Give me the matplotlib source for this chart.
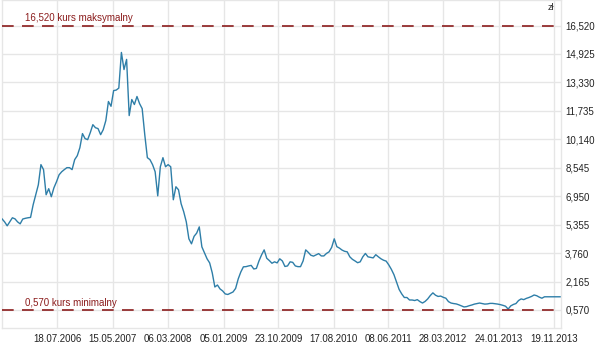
import matplotlib
matplotlib.use("Agg")
import matplotlib.pyplot as plt
import numpy as np
import pandas as pd

plt.rcParams['font.family'] = ['Liberation Sans', 'DejaVu Sans']

# ---- data ----
start_date = "2005-09-24"
step = "14D"
prices = [
    5.68, 5.51, 5.29, 5.51, 5.74, 5.68, 5.51, 5.40, 5.67, 5.71,
    5.74, 5.76, 6.47, 7.03, 7.59, 8.72, 8.44, 7.03, 7.37, 6.92,
    7.42, 7.76, 8.15, 8.32, 8.44, 8.55, 8.55, 8.44, 9.00, 9.22,
    9.67, 10.46, 10.18, 10.12, 10.51, 10.96, 10.79, 10.74, 10.40, 10.68,
    11.19, 12.26, 11.99, 12.87, 12.90, 13.01, 15.01, 14.05, 14.62, 11.47,
    12.37, 12.09, 12.54, 12.14, 11.86, 10.40, 9.11, 9.00, 8.72, 8.32,
    6.97, 8.60, 9.11, 8.60, 8.72, 8.60, 6.75, 7.48, 7.31, 6.53,
    6.08, 5.51, 4.56, 4.28, 4.70, 4.88, 5.23, 4.11, 3.77, 3.44,
    3.21, 2.65, 1.86, 1.97, 1.75, 1.64, 1.47, 1.44, 1.51, 1.58,
    1.78, 2.31, 2.70, 2.99, 3.00, 3.04, 3.07, 2.87, 2.90, 3.32,
    3.66, 3.94, 3.47, 3.34, 3.19, 3.27, 3.21, 3.44, 3.32, 3.01,
    3.04, 3.27, 3.24, 3.04, 3.00, 3.00, 3.32, 3.94, 3.80, 3.64,
    3.59, 3.66, 3.73, 3.60, 3.60, 3.74, 3.83, 4.08, 4.56, 4.12,
    4.04, 3.93, 3.86, 3.83, 3.55, 3.41, 3.32, 3.22, 3.27, 3.55,
    3.74, 3.55, 3.52, 3.49, 3.67, 3.55, 3.44, 3.36, 3.31, 3.10,
    2.85, 2.55, 2.14, 1.72, 1.47, 1.27, 1.27, 1.13, 1.13, 1.10,
    1.15, 1.04, 0.96, 1.05, 1.19, 1.38, 1.53, 1.40, 1.33, 1.35,
    1.28, 1.23, 1.04, 0.96, 0.93, 0.91, 0.86, 0.80, 0.74, 0.76,
    0.81, 0.85, 0.90, 0.93, 0.96, 0.93, 0.90, 0.91, 0.94, 0.94,
    0.92, 0.90, 0.87, 0.83, 0.78, 0.62, 0.80, 0.88, 0.93, 1.10,
    1.19, 1.15, 1.22, 1.27, 1.33, 1.41, 1.37, 1.29, 1.23, 1.31,
    1.31, 1.31, 1.31, 1.31, 1.31, 1.31,
]
max_price = 16.520
min_price = 0.570
y_ticks = [0.570, 2.165, 3.760, 5.355, 6.950, 8.545, 10.140, 11.735, 13.330, 14.925, 16.520]
x_tick_labels = ["18.07.2006", "15.05.2007", "06.03.2008", "05.01.2009", "23.10.2009",
                 "17.08.2010", "08.06.2011", "28.03.2012", "24.01.2013", "19.11.2013"]
max_label = "16,520 kurs maksymalny"
min_label = "0,570 kurs minimalny"
unit_label = "zł"

dates = pd.date_range(start_date, periods=len(prices), freq=step)
tick_dates = pd.to_datetime(x_tick_labels, format="%d.%m.%Y")

# ---- figure ----
W, H = 608, 353
fig = plt.figure(figsize=(W / 100, H / 100), dpi=100)
ax = fig.add_axes([2 / W, 25 / H, 559 / W, 328 / H])

line_color = "#2e7ea8"
dash_color = "#8b1c1c"
grid_color = "#e6e6e6"

ax.plot(dates, prices, color=line_color, lw=1.0, zorder=3)

ax.axhline(max_price, color=dash_color, lw=1.2, ls=(0, (7, 5)), zorder=4)
ax.axhline(min_price, color=dash_color, lw=1.2, ls=(0, (7, 5)), zorder=4)

ax.set_ylim(-0.44, 17.95)
ax.set_xlim(dates[0], dates[-1] + pd.Timedelta(days=5))

ax.set_yticks(y_ticks)
ax.set_yticklabels([f"{v:.3f}".replace(".", ",") for v in y_ticks])
ax.yaxis.tick_right()
ax.set_xticks(tick_dates)
ax.set_xticklabels(x_tick_labels)

ax.tick_params(axis="both", length=0, labelsize=7, colors="#222222")
ax.tick_params(axis="y", pad=3)
ax.tick_params(axis="x", pad=4)

ax.grid(True, color=grid_color, lw=1.0, zorder=0)
for s in ax.spines.values():
    s.set_color(grid_color)
    s.set_linewidth(1.0)

ax.text(dates[9], max_price + 0.12, max_label, color=dash_color, fontsize=7,
        va="bottom", ha="left")
ax.text(dates[9], min_price + 0.12, min_label, color=dash_color, fontsize=7,
        va="bottom", ha="left")
ax.text(0.988, 0.99, unit_label, transform=ax.transAxes, fontsize=6.5,
        color="#222222", va="top", ha="right")

fig.savefig("out.png", dpi=100)
